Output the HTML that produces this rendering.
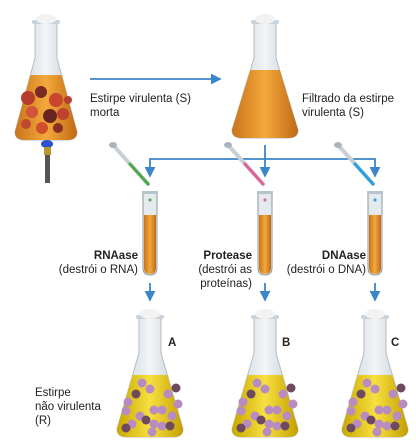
<!DOCTYPE html>
<html><head><meta charset="utf-8"><style>
html,body{margin:0;padding:0;background:#fff;width:416px;height:440px;overflow:hidden}
svg{display:block}
text{font-family:"Liberation Sans",sans-serif;font-size:11.5px;fill:#222}
.b{font-weight:bold}
</style></head><body>
<svg id="s" width="416" height="440" viewBox="0 0 416 440">
<defs>
<linearGradient id="glass" x1="0" x2="1"><stop offset="0" stop-color="#9aa8b4"/><stop offset="0.5" stop-color="#e8eef2"/><stop offset="1" stop-color="#8a98a6"/></linearGradient>
<linearGradient id="orange" x1="0" x2="1"><stop offset="0" stop-color="#c9741a"/><stop offset="0.5" stop-color="#f4a83c"/><stop offset="1" stop-color="#c06a14"/></linearGradient>
<linearGradient id="yellow" x1="0" x2="1"><stop offset="0" stop-color="#c9a800"/><stop offset="0.5" stop-color="#f7e040"/><stop offset="1" stop-color="#c4a000"/></linearGradient>
<marker id="ah" markerWidth="6" markerHeight="6" refX="5" refY="3" orient="auto"><path d="M0,0 L6,3 L0,6 z" fill="#3a86c8"/></marker>
</defs>
<g id="flasks"></g>
<g>
<ellipse cx="47" cy="144" rx="6" ry="4" fill="#3050d0"/>
<rect x="44" y="147" width="7" height="8" fill="#b8962e"/>
<rect x="45" y="155" width="5" height="28" fill="#555"/>
</g>
<g stroke="#3a86c8" stroke-width="1.8" fill="none">
<line x1="90" y1="79" x2="220" y2="79" marker-end="url(#ah)"/>
<line x1="265" y1="145" x2="265" y2="176" marker-end="url(#ah)"/>
<polyline points="150,176 150,159 375,159 375,176"/>
<line x1="150" y1="170" x2="150" y2="176" marker-end="url(#ah)"/>
<line x1="375" y1="170" x2="375" y2="176" marker-end="url(#ah)"/>
<line x1="150" y1="283" x2="150" y2="300" marker-end="url(#ah)"/>
<line x1="265" y1="283" x2="265" y2="300" marker-end="url(#ah)"/>
<line x1="375" y1="283" x2="375" y2="300" marker-end="url(#ah)"/>
</g>
<g id="tubes"></g>
<text x="90" y="102">Estirpe virulenta (S)</text>
<text x="90" y="116">morta</text>
<text x="302" y="102">Filtrado da estirpe</text>
<text x="302" y="116">virulenta (S)</text>
<g text-anchor="end">
<text class="b" x="138" y="259">RNAase</text>
<text x="138" y="273">(destrói o RNA)</text>
<text class="b" x="252" y="259">Protease</text>
<text x="252" y="273">(destrói as</text>
<text x="252" y="287">proteínas)</text>
<text class="b" x="366" y="259">DNAase</text>
<text x="366" y="273">(destrói o DNA)</text>
</g>
<text class="b" x="168" y="346">A</text>
<text class="b" x="282" y="346">B</text>
<text class="b" x="391" y="346">C</text>
<text x="35" y="396">Estirpe</text>
<text x="35" y="410">não virulenta</text>
<text x="35" y="424">(R)</text>
</svg>
<script>
const NS='http://www.w3.org/2000/svg';
function mk(tag,attrs,parent){const e=document.createElementNS(NS,tag);for(const k in attrs)e.setAttribute(k,attrs[k]);parent.appendChild(e);return e;}
const F=document.getElementById('flasks');
function flask(cx,top,base,hw,liq,fill,name,dots,dotc){
  const g=mk('g',{},F);
  
  
  const nw=11, nb=top+40;
  const d=`M${cx-nw},${top+4} L${cx-nw},${nb} L${cx-hw},${base-8} Q${cx-hw},${base} ${cx-hw+10},${base} L${cx+hw-10},${base} Q${cx+hw},${base} ${cx+hw},${base-8} L${cx+nw},${nb} L${cx+nw},${top+4} Z`;
  mk('path',{d:d,fill:'url(#glass)',stroke:'#7a8894','stroke-width':1,opacity:0.55},g);
  const t=(liq-nb)/(base-8-nb);const lw=nw+(hw-nw)*t;
  mk('path',{d:`M${cx-lw},${liq} L${cx-hw},${base-8} Q${cx-hw},${base} ${cx-hw+10},${base} L${cx+hw-10},${base} Q${cx+hw},${base} ${cx+hw},${base-8} L${cx+lw},${liq} Z`,fill:fill},g);
  mk('rect',{x:cx-nw-3,y:top+2,width:2*nw+6,height:4,rx:2,fill:'#c8d2da'},g);
  mk('ellipse',{cx:cx,cy:top+1,rx:nw-1,ry:5,fill:'#f2f2f2'},g);
  for(const p of dots){mk('circle',{cx:cx+p[0],cy:p[1],r:p[2]||4.5,fill:p[3]||dotc},g);}
}
const rd=[[-18,98,7,'#b83c2a'],[-5,92,6,'#7a2a22'],[10,100,7,'#c8462e'],[-14,112,6,'#d2543a'],[4,116,7,'#6a2420'],[17,114,6,'#c04030'],[-4,128,6,'#d0502e'],[12,128,5,'#8a2e24'],[-20,124,5,'#c04a30'],[22,100,4,'#b34030']];
flask(46,18,140,31,75,'url(#orange)','flask-dead-virulent',rd,'#b84030');
flask(265,18,138,33,70,'url(#orange)','flask-filtrate',[],'');
const pd=[[-8,383],[0,389],[-14,394],[-22,402],[-24,411],[-10,416],[-4,420],[4,410],[12,410],[18,394],[26,388],[28,404],[22,416],[-18,424],[-24,428],[4,424],[12,426],[2,432],[20,426]];
const pdots=pd.map((p,i)=>[p[0],p[1],4.5,i%4==2?'#6e4a60':'#b88cc0']);
[150,265,375].forEach((x,i)=>flask(x,313,437,33,375,'url(#yellow)','flask-'+['a','b','c'][i],pdots,'#b88cc0'));
const T=document.getElementById('tubes');
const cols=['#4caa4a','#e0609a','#2aa0d8'];const names=['rnaase','protease','dnaase'];
[150,265,375].forEach((x,i)=>{
  const g=mk('g',{},T);
  
  
  mk('path',{d:`M${x-7},193 L${x-7},268 Q${x-7},275 ${x},275 Q${x+7},275 ${x+7},268 L${x+7},193 Z`,fill:'#e4eaee',stroke:'#8a98a4','stroke-width':1},g);
  mk('path',{d:`M${x-6},215 L${x-6},268 Q${x-6},274 ${x},274 Q${x+6},274 ${x+6},268 L${x+6},215 Z`,fill:'url(#orange)'},g);
  mk('rect',{x:x-8,y:191,width:16,height:3,fill:'#b8c4cc'},g);
  mk('circle',{cx:x,cy:200,r:1.5,fill:cols[i]},g);
  const p=mk('g',{},T);
  
  
  mk('line',{x1:x-37,y1:145,x2:x-2,y2:184,stroke:'#c8d0d6','stroke-width':4,'stroke-linecap':'round'},p);
  mk('line',{x1:x-20,y1:164,x2:x-2,y2:184,stroke:cols[i],'stroke-width':3,'stroke-linecap':'round'},p);
  mk('ellipse',{cx:x-37,cy:145,rx:4,ry:3,fill:'#aab4bc'},p);
});
</script>
</body></html>
